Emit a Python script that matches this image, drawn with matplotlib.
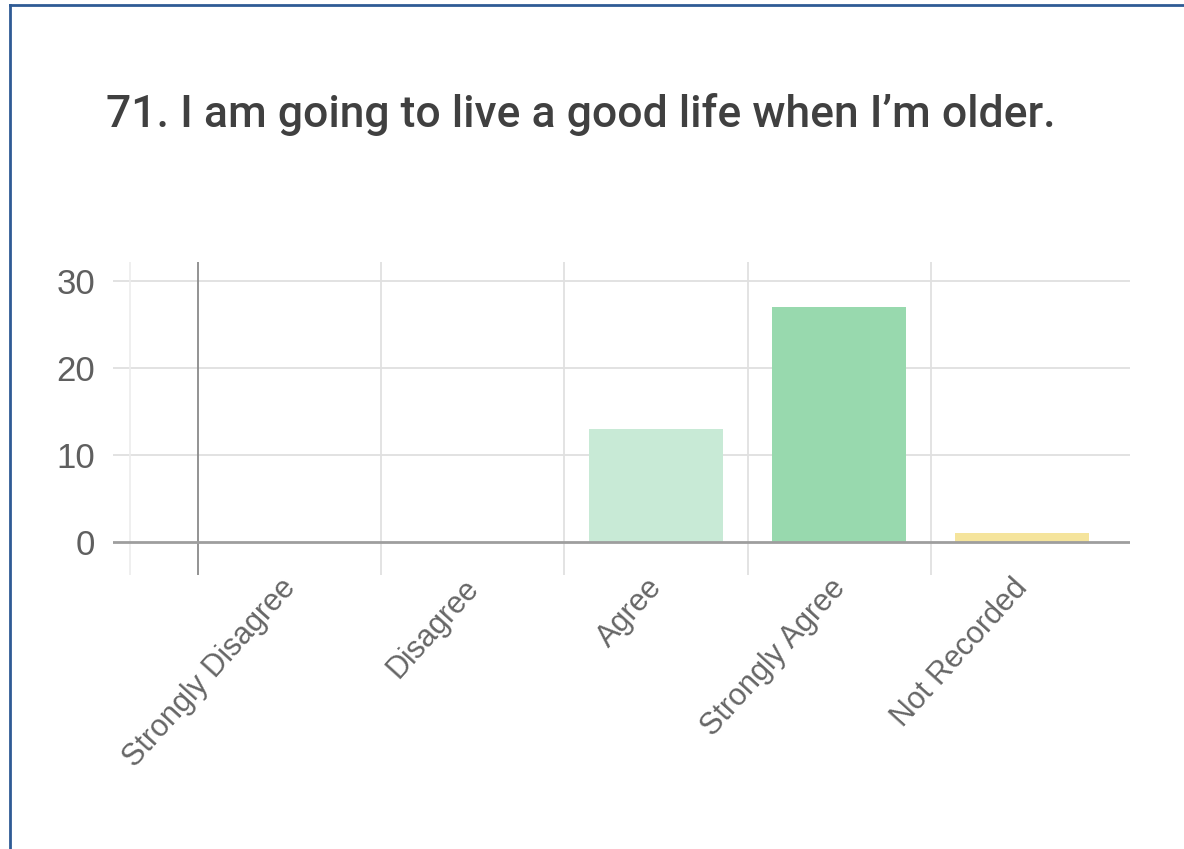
"""
survey question 71 - column chart of responses
"""

import matplotlib
matplotlib.use("Agg")
import matplotlib.pyplot as plt
from matplotlib.lines import Line2D
from matplotlib.transforms import ScaledTranslation

categories = ["Strongly Disagree", "Disagree", "Agree", "Strongly Agree", "Not Recorded"]
counts = [0, 0, 13, 27, 1]
bar_colors = ["#c8ead6", "#c8ead6", "#c8ead6", "#98d9ae", "#f5e49c"]
y_ticks = [0, 10, 20, 30]
title = "71. I am going to live a good life when I\u2019m older."

W, H = 1184, 849
fig = plt.figure(figsize=(W / 100, H / 100), dpi=100)

# axes box in pixel units, turned into figure fractions
left, right, top, bottom = 113, 1130, 262, 575
ax = fig.add_axes([left / W, 1 - bottom / H, (right - left) / W, (bottom - top) / H])

x = list(range(len(categories)))
ax.bar(x, counts, width=0.73, color=bar_colors, zorder=2)

ax.set_xlim(-0.967, 4.59)
ax.set_ylim(-3.79, 32.18)

# horizontal grid
for v in y_ticks:
    if v == 0:
        ax.axhline(v, color="#9e9e9e", lw=2.0, zorder=3)
    else:
        ax.axhline(v, color="#e2e2e2", lw=1.4, zorder=1)

# vertical grid between categories
ax.axvline(-0.874, color="#ececec", lw=1.2, zorder=1)
for i in x:
    col = "#8a8a8a" if i == 0 else "#e0e0e0"
    ax.axvline(i - 0.5, color=col, lw=1.3, zorder=1)

for s in ax.spines.values():
    s.set_visible(False)

ax.set_yticks(y_ticks)
ax.set_yticklabels([str(v) for v in y_ticks], fontsize=25, color="#5f5f5f",
                   family="Liberation Sans")
ax.tick_params(axis="y", length=0, pad=13)

ax.set_xticks(x)
ax.set_xticklabels(categories, rotation=48, ha="right", rotation_mode="anchor",
                   fontsize=22, color="#666666", family="Liberation Sans")
ax.tick_params(axis="x", length=0, pad=0)
shift = ScaledTranslation(-0.10, 0.02, fig.dpi_scale_trans)
for lab in ax.get_xticklabels():
    lab.set_transform(lab.get_transform() + shift)

fig.text(106 / W, 1 - 127 / H, title, fontsize=32, color="#404040",
         family="Roboto", weight="medium", va="baseline", ha="left")

# frame line on the left and top edges
fig.add_artist(Line2D([10 / W, 10 / W], [0, 1 - 5 / H], color="#2f5b95", lw=2))
fig.add_artist(Line2D([10 / W, 1], [1 - 5 / H, 1 - 5 / H], color="#2f5b95", lw=2))

fig.savefig("out.png", dpi=100)
